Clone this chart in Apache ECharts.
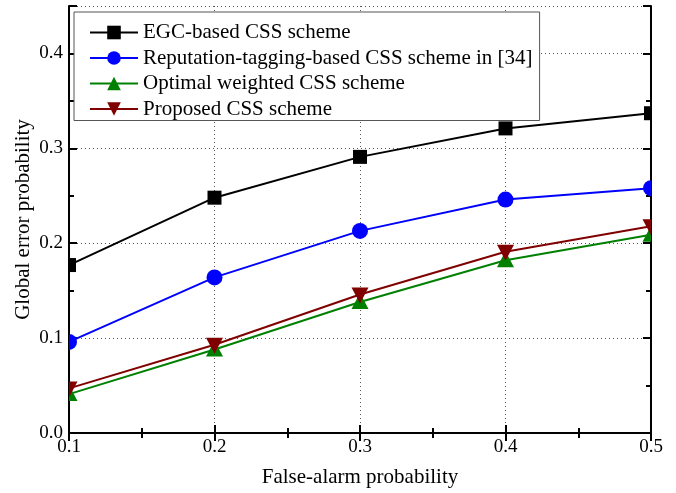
<!DOCTYPE html>
<html>
<head>
<meta charset="utf-8">
<script src="https://cdn.jsdelivr.net/npm/echarts@6/dist/echarts.min.js"></script>
<style>
  html, body { margin: 0; padding: 0; background: #fff; }
  #chart { width: 676px; height: 493px; }
</style>
</head>
<body>
<div id="chart"></div>
<script>
// False-alarm probability on the x axis
const falseAlarm = [0.1, 0.2, 0.3, 0.4, 0.5];

// Global error probability of each scheme
const egcBased = [0.177, 0.248, 0.291, 0.321, 0.337];
const reputationTagging = [0.096, 0.164, 0.213, 0.246, 0.258];
const optimalWeighted = [0.041, 0.088, 0.138, 0.182, 0.209];
const proposed = [0.047, 0.093, 0.146, 0.191, 0.218];

const seriesNames = [
  'EGC-based CSS scheme',
  'Reputation-tagging-based CSS scheme in [34]',
  'Optimal weighted CSS scheme',
  'Proposed CSS scheme'
];

const FONT = '"Liberation Serif", "Times New Roman", serif';
const DOWN_TRIANGLE = 'path://M0,0 L2,0 L1,2 Z';

function pairs(ys) {
  return falseAlarm.map((x, i) => [x, ys[i]]);
}

// The connecting line; its symbol only feeds the legend icon.
function lineSeries(name, ys, color, symbol) {
  return {
    name: name,
    type: 'line',
    data: pairs(ys),
    symbol: symbol,
    showSymbol: false,
    clip: true,
    lineStyle: { color: color, width: 2 },
    itemStyle: { color: color },
    emphasis: { disabled: true },
    animation: false,
    z: 2
  };
}

// Marker shapes drawn in pixel space around the data point, clipped to the plot.
function markerShape(kind, cx, cy, color) {
  if (kind === 'square') {
    const h = 7;
    return { type: 'rect', shape: { x: cx - h, y: cy - h, width: 2 * h, height: 2 * h }, style: { fill: color } };
  }
  if (kind === 'circle') {
    return { type: 'circle', shape: { cx: cx, cy: cy, r: 8 }, style: { fill: color } };
  }
  if (kind === 'up') {
    return { type: 'polygon', shape: { points: [[cx - 8.5, cy + 7], [cx + 8.5, cy + 7], [cx, cy - 9]] }, style: { fill: color } };
  }
  return { type: 'polygon', shape: { points: [[cx - 8.5, cy - 7], [cx + 8.5, cy - 7], [cx, cy + 9]] }, style: { fill: color } };
}

function markerSeries(ys, color, kind) {
  return {
    name: kind + '-markers',
    type: 'custom',
    data: pairs(ys),
    clip: true,
    silent: true,
    animation: false,
    z: 3,
    renderItem: function (params, api) {
      const p = api.coord([api.value(0), api.value(1)]);
      return markerShape(kind, p[0], p[1], color);
    }
  };
}

const tickInside = { show: true, inside: true, length: 8, lineStyle: { color: '#000', width: 2 } };
const minorInside = { show: true, splitNumber: 2, length: 5, lineStyle: { color: '#000', width: 2 } };
const axisLineStyle = { show: true, lineStyle: { color: '#000', width: 2 } };
const gridDots = { show: true, lineStyle: { color: '#555', type: [1, 3], width: 1 } };

const chart = echarts.init(document.getElementById('chart'));
chart.setOption({
  animation: false,
  backgroundColor: '#fff',
  grid: { left: 69, right: 25, top: 6, bottom: 60, containLabel: false },
  legend: {
    orient: 'vertical',
    left: 74,
    top: 12,
    padding: [10, 7, 1, 15],
    itemGap: 4.5,
    itemWidth: 48,
    itemHeight: 17,
    backgroundColor: '#fff',
    borderColor: '#555',
    borderWidth: 1,
    textStyle: { fontFamily: FONT, fontSize: 21, color: '#000' },
    data: seriesNames
  },
  xAxis: [
    {
      type: 'value',
      min: 0.1,
      max: 0.5,
      interval: 0.1,
      name: 'False-alarm probability',
      nameLocation: 'middle',
      nameGap: 34,
      nameMoveOverlap: false,
      nameTextStyle: { fontFamily: FONT, fontSize: 21, color: '#000' },
      axisLine: axisLineStyle,
      axisTick: tickInside,
      minorTick: minorInside,
      axisLabel: {
        fontFamily: FONT, fontSize: 19, color: '#000', margin: 5,
        formatter: v => v.toFixed(1)
      },
      splitLine: gridDots
    },
    {
      type: 'value',
      position: 'top',
      min: 0.1,
      max: 0.5,
      interval: 0.1,
      axisLine: axisLineStyle,
      axisTick: tickInside,
      minorTick: minorInside,
      axisLabel: { show: false },
      splitLine: { show: false }
    }
  ],
  yAxis: [
    {
      type: 'value',
      min: 0,
      max: 0.45,
      interval: 0.1,
      name: 'Global error probability',
      nameLocation: 'middle',
      nameGap: 35,
      nameMoveOverlap: false,
      nameTextStyle: { fontFamily: FONT, fontSize: 21, color: '#000' },
      axisLine: axisLineStyle,
      axisTick: tickInside,
      minorTick: minorInside,
      axisLabel: {
        fontFamily: FONT, fontSize: 19, color: '#000', margin: 6,
        showMaxLabel: false,
        formatter: v => (Math.abs(v - 0.45) < 1e-9 ? '' : v.toFixed(1))
      },
      splitLine: gridDots
    },
    {
      type: 'value',
      position: 'right',
      min: 0,
      max: 0.45,
      interval: 0.1,
      axisLine: axisLineStyle,
      axisTick: tickInside,
      minorTick: minorInside,
      axisLabel: { show: false },
      splitLine: { show: false }
    }
  ],
  series: [
    lineSeries(seriesNames[0], egcBased, '#000000', 'rect'),
    lineSeries(seriesNames[1], reputationTagging, '#0000ff', 'circle'),
    lineSeries(seriesNames[2], optimalWeighted, '#008000', 'triangle'),
    lineSeries(seriesNames[3], proposed, '#800000', DOWN_TRIANGLE),
    markerSeries(egcBased, '#000000', 'square'),
    markerSeries(reputationTagging, '#0000ff', 'circle'),
    markerSeries(optimalWeighted, '#008000', 'up'),
    markerSeries(proposed, '#800000', 'down')
  ]
});
</script>
</body>
</html>
